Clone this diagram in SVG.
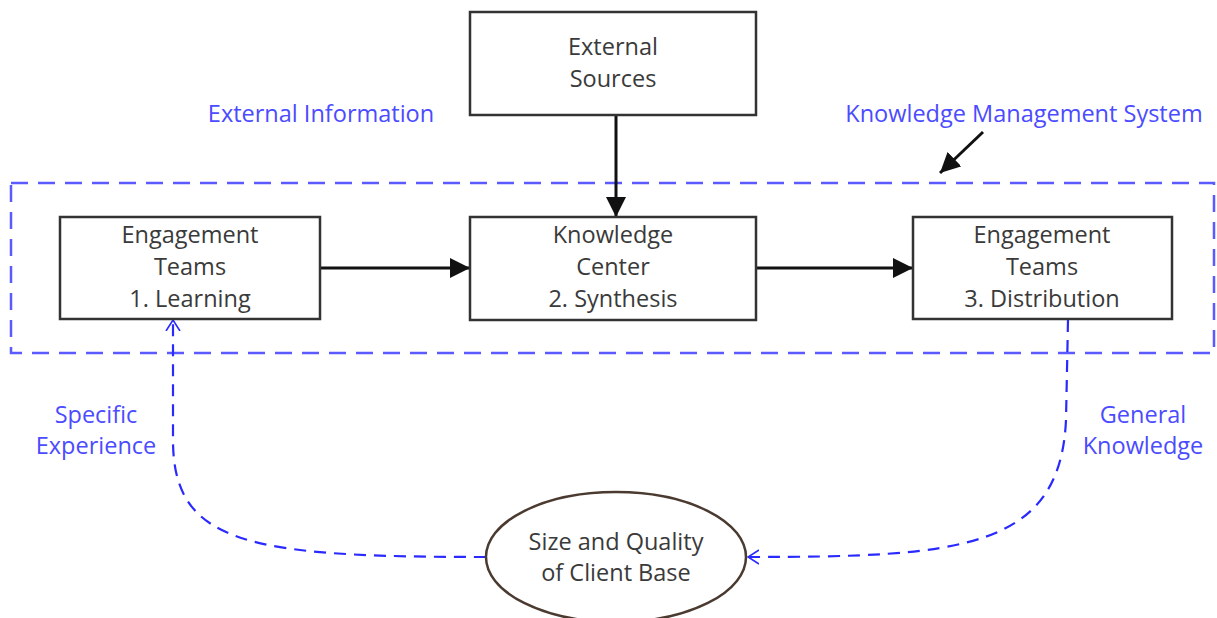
<svg xmlns="http://www.w3.org/2000/svg" width="1217" height="618" viewBox="0 0 1217 618">
  <style>
    .box { fill: #ffffff; stroke: #333333; stroke-width: 2.5; }
    .txt { font-family: "Open Sans", "Liberation Sans", sans-serif; font-size: 23.5px; fill: #3a3a3a; text-anchor: middle; }
    .lbl { font-family: "Open Sans", "Liberation Sans", sans-serif; font-size: 23.5px; fill: #4b4bff; text-anchor: middle; }
    .flow { stroke: #111111; stroke-width: 3; fill: none; marker-end: url(#solid); }
    .loop { stroke: #2a2aff; stroke-width: 2.2; fill: none; stroke-dasharray: 12 8; marker-end: url(#open); }
    .boundary { fill: none; stroke: #5a5aff; stroke-width: 2.5; stroke-dasharray: 17 10; }
  </style>
  <defs>
    <marker id="solid" viewBox="0 0 20 20" refX="20" refY="10" markerWidth="20" markerHeight="20" markerUnits="userSpaceOnUse" orient="auto">
      <path d="M0,0 L20,10 L0,20 Z" fill="#111111"/>
    </marker>
    <marker id="open" viewBox="0 0 12 16" refX="11" refY="8" markerWidth="12" markerHeight="16" markerUnits="userSpaceOnUse" orient="auto">
      <path d="M0,1 L11,8 L0,15" fill="none" stroke="#2a2aff" stroke-width="1.6"/>
    </marker>
  </defs>

  <!-- system boundary -->
  <rect class="boundary" x="11" y="183" width="1203" height="170"/>

  <g id="connectors">
    <line class="flow" x1="616" y1="115" x2="616" y2="217"/>
    <line class="flow" x1="320" y1="268" x2="470" y2="268"/>
    <line class="flow" x1="756" y1="268" x2="913" y2="268"/>
    <line x1="983" y1="132" x2="940" y2="173" stroke="#111111" stroke-width="3" marker-end="url(#solid)"/>
    <path class="loop" d="M486,557 C250,557 173,545 173,440 L173,320"/>
    <path class="loop" d="M1068,320 L1066,420 C1060,550 960,557 748,557"/>
  </g>

  <g id="external-sources">
    <rect class="box" x="470" y="12" width="286" height="103"/>
    <text class="txt" x="613" y="55">External</text>
    <text class="txt" x="613" y="87">Sources</text>
  </g>

  <g id="engagement-learning">
    <rect class="box" x="60" y="217" width="260" height="102"/>
    <text class="txt" x="190" y="243">Engagement</text>
    <text class="txt" x="190" y="275">Teams</text>
    <text class="txt" x="190" y="307">1. Learning</text>
  </g>

  <g id="knowledge-center">
    <rect class="box" x="470" y="217" width="286" height="103"/>
    <text class="txt" x="613" y="243">Knowledge</text>
    <text class="txt" x="613" y="275">Center</text>
    <text class="txt" x="613" y="307">2. Synthesis</text>
  </g>

  <g id="engagement-distribution">
    <rect class="box" x="913" y="217" width="259" height="102"/>
    <text class="txt" x="1042" y="243">Engagement</text>
    <text class="txt" x="1042" y="275">Teams</text>
    <text class="txt" x="1042" y="307">3. Distribution</text>
  </g>

  <g id="client-base">
    <ellipse cx="616" cy="557" rx="130" ry="65" fill="#ffffff" stroke="#4a3a30" stroke-width="2.5"/>
    <text class="txt" x="616" y="550">Size and Quality</text>
    <text class="txt" x="616" y="581">of Client Base</text>
  </g>

  <g id="labels">
    <text class="lbl" x="321" y="122">External Information</text>
    <text class="lbl" x="1024" y="122">Knowledge Management System</text>
    <text class="lbl" x="96" y="423">Specific</text>
    <text class="lbl" x="96" y="454">Experience</text>
    <text class="lbl" x="1143" y="423">General</text>
    <text class="lbl" x="1143" y="454">Knowledge</text>
  </g>
</svg>
